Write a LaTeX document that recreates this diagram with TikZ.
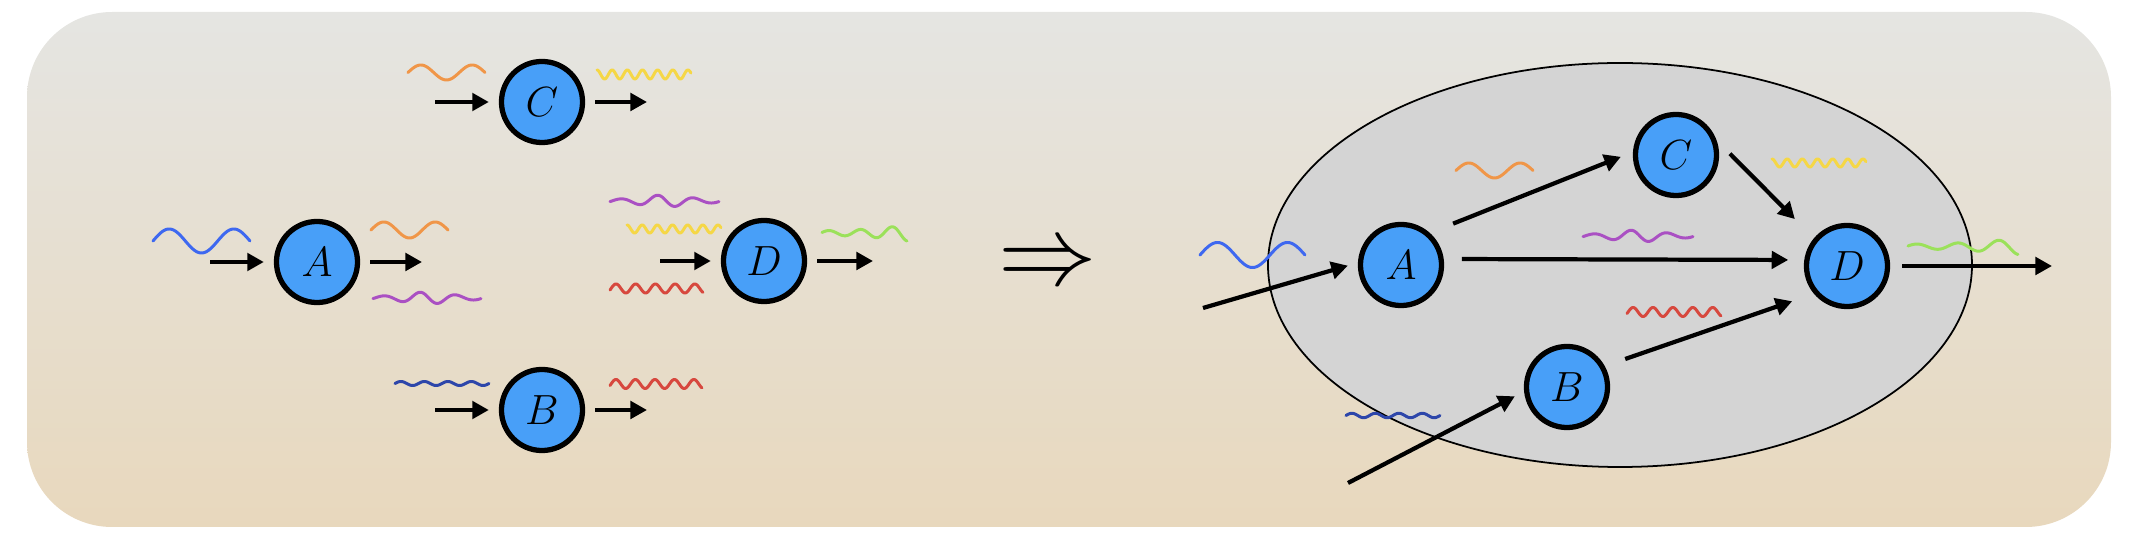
\documentclass[tikz,border=0pt]{standalone}
\usepackage{graphicx}
\usetikzlibrary{arrows.meta,calc}
\definecolor{nodeblue}{RGB}{72,159,248}
\definecolor{bgtop}{RGB}{229,229,226}
\definecolor{bgbot}{RGB}{232,216,189}
\definecolor{ellfill}{RGB}{212,212,212}
\definecolor{wblue}{RGB}{62,104,240}
\definecolor{worange}{RGB}{240,150,72}
\definecolor{wyellow}{RGB}{245,215,70}
\definecolor{wpurple}{RGB}{170,80,195}
\definecolor{wred}{RGB}{215,72,62}
\definecolor{wdblue}{RGB}{45,70,170}
\definecolor{wgreen}{RGB}{155,225,90}
\newcommand{\wavep}[6]{\draw[wave,#1] plot[domain=0:1,samples=160,variable=\t] ({#2+#3*\t},{#4-#5*(#6)});}
\begin{document}
\begin{tikzpicture}[x=0.01cm, y=-0.01cm,
  neuron/.style={circle, draw=black, line width=1.5pt, fill=nodeblue, minimum size=0.81cm, inner sep=0pt, font=\fontsize{11.5}{13}\selectfont},
  flow/.style={line width=1.2pt, -{Triangle[length=4.7pt,width=4.9pt]}},
  wave/.style={line width=0.85pt, line cap=round, line join=round},
  ellbox/.style={fill=ellfill, draw=black, line width=0.5pt}]
\useasboundingbox (0,0) rectangle (2138,546);
% background
\shade[top color=bgtop, bottom color=bgbot, rounded corners=0.85cm] (27,12) rectangle (2111,527);

% ---------- left panel ----------
\node[neuron] (lA) at (317,262) {$A$};
\node[neuron] (lC) at (542,102) {$C$};
\node[neuron] (lB) at (542,410) {$B$};
\node[neuron] (lD) at (764,261) {$D$};

\coordinate (lAin) at (210,262);  \coordinate (lAout) at (422,262);
\coordinate (lCin) at (435,102);  \coordinate (lCout) at (647,102);
\coordinate (lBin) at (435,410);  \coordinate (lBout) at (647,410);
\coordinate (lDin) at (660,261);  \coordinate (lDout) at (873,261);

\foreach \n in {lA,lB,lC,lD}{
  \draw[flow, shorten >=0.1cm] (\n in) -- (\n);
  \draw[flow, shorten <=0.1cm] (\n.east) -- (\n out);
}

\wavep{wblue}{153}{97}{241}{12}{sin(540*\t)}
\wavep{worange}{371}{77}{230}{8}{sin(540*\t)}
\wavep{wpurple}{373}{108}{298}{6}{(0.3+0.7*exp(-((\t-0.5)/0.25)^2))*sin(1080*\t-18)}
\wavep{worange}{408}{77}{72.5}{7.5}{sin(540*\t)}
\wavep{wyellow}{597}{94}{74.5}{4.5}{cos(2232*\t)}
\wavep{wpurple}{610}{109}{201}{6}{(0.3+0.7*exp(-((\t-0.5)/0.25)^2))*sin(1080*\t-18)}
\wavep{wyellow}{627}{94}{229}{4}{cos(2232*\t)}
\wavep{wred}{610}{93}{288.5}{4.5}{sin(1700*\t-20)}
\wavep{wgreen}{822}{85}{233}{8}{(0.3+0.7*\t*\t)*sin(972*\t+12)}
\wavep{wdblue}{395}{94}{383.5}{2}{sin(1440*\t)}
\wavep{wred}{610}{92}{384}{4.5}{sin(1700*\t-20)}

% ---------- implication ----------
\node (impl) at (1048,266) {\scalebox{2.8}{$\Rightarrow$}};

% ---------- right panel ----------
\draw[ellbox] (1620,265) ellipse [x radius=352, y radius=202];

\wavep{wblue}{1200}{105}{255}{12.5}{sin(540*\t)}
\wavep{worange}{1456}{77}{170.5}{7.5}{sin(540*\t)}
\wavep{wpurple}{1583}{110}{236}{6}{(0.3+0.7*exp(-((\t-0.5)/0.25)^2))*sin(1080*\t-18)}
\wavep{wred}{1627}{94}{312}{4.5}{sin(1700*\t-20)}
\wavep{wyellow}{1772}{94}{163}{4}{cos(2232*\t)}
\wavep{wgreen}{1908}{110}{246.5}{8}{(0.3+0.7*\t*\t)*sin(972*\t+12)}
\wavep{wdblue}{1346}{94}{415.5}{2.2}{sin(1440*\t)}

\node[neuron] (rA) at (1401,265) {$A$};
\node[neuron] (rB) at (1567,387) {$B$};
\node[neuron] (rC) at (1676,155) {$C$};
\node[neuron] (rD) at (1847,266) {$D$};

\coordinate (rAin) at (1203,308);
\coordinate (rBin) at (1348,483);
\coordinate (rDout) at (2052,266);

\draw[flow, shorten >=0.104cm] (rAin) -- (rA.177);
\draw[flow, shorten >=0.104cm] (rBin) -- (rB.186);
\draw[flow, shorten <=0.25cm, shorten >=0.13cm] (rA.48) -- (rC.176);
\draw[flow, shorten <=0.18cm, shorten >=0.16cm] (rA.8) -- (rD.172);
\draw[flow, shorten <=0.19cm, shorten >=0.27cm] (rC.20) -- (rD.140);
\draw[flow, shorten <=0.216cm, shorten >=0.23cm] (rB.29) -- (rD.220);
\draw[flow, shorten <=0.12cm] (rD.east) -- (rDout);
\end{tikzpicture}
\end{document}
